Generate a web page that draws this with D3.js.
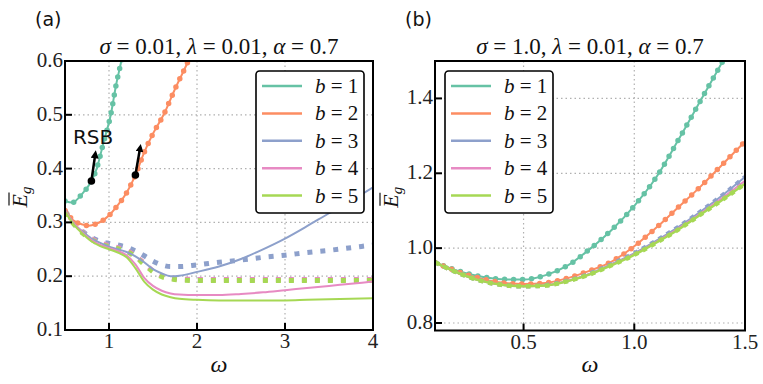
<!DOCTYPE html>
<html>
<head>
<meta charset="utf-8">
<script src="https://cdn.jsdelivr.net/npm/d3@7"></script>
<style>
  body { margin: 0; background: #fff; }
  svg { display: block; }
  .tick-label { font-family: "Liberation Serif", serif; font-size: 21px; fill: #222; }
  .math { font-family: "Liberation Serif", serif; font-style: italic; fill: #111; }
</style>
</head>
<body>
<svg id="fig" width="763" height="384"></svg>
<script>
// ---- data ----
var colors = ["#66c2a5", "#fc8d62", "#8da0cb", "#e78ac3", "#a6d854"];
var legendLabels = ["1", "2", "3", "4", "5"];

// panel (a): sigma = 0.01
var aXTicks = [1, 2, 3, 4];
var aYTicks = [0.1, 0.2, 0.3, 0.4, 0.5, 0.6];
var aOmega1 = [0.5, 0.58, 0.7, 0.8, 0.86, 0.94, 1.02, 1.08, 1.14, 1.2];
var aTheory1 = [0.340, 0.337, 0.354, 0.377, 0.40, 0.45, 0.50, 0.555, 0.60, 0.65];
var aOmega2 = [0.5, 0.6, 0.7, 0.77, 0.85, 1.0, 1.1, 1.2, 1.3, 1.4, 1.5, 1.62, 1.75, 1.9, 2.0];
var aTheory2 = [0.322, 0.303, 0.296, 0.294, 0.297, 0.313, 0.332, 0.355, 0.388, 0.43, 0.465, 0.50, 0.548, 0.60, 0.64];
var aOmega = [0.5, 0.6, 0.7, 0.8, 0.9, 1.0, 1.1, 1.2, 1.3, 1.4, 1.5, 1.6, 1.7, 1.8, 2.0, 2.25, 2.5, 2.75, 3.0, 3.25, 3.5, 3.75, 4.0];
var aTheory3 = [0.323, 0.298, 0.283, 0.270, 0.262, 0.255, 0.250, 0.245, 0.237, 0.226, 0.213, 0.205, 0.200, 0.201, 0.208, 0.218, 0.232, 0.250, 0.270, 0.293, 0.317, 0.340, 0.365];
var aTheory4 = [0.322, 0.298, 0.281, 0.267, 0.258, 0.252, 0.247, 0.239, 0.222, 0.197, 0.182, 0.173, 0.168, 0.166, 0.165, 0.165, 0.167, 0.170, 0.174, 0.178, 0.182, 0.186, 0.190];
var aTheory5 = [0.320, 0.296, 0.279, 0.265, 0.256, 0.250, 0.244, 0.235, 0.215, 0.190, 0.175, 0.166, 0.161, 0.158, 0.156, 0.155, 0.155, 0.155, 0.155, 0.156, 0.157, 0.158, 0.159];
var aSim3 = [0.320, 0.298, 0.283, 0.272, 0.265, 0.261, 0.258, 0.254, 0.247, 0.238, 0.228, 0.221, 0.218, 0.218, 0.221, 0.226, 0.230, 0.235, 0.239, 0.244, 0.248, 0.253, 0.258];
var aSim4 = [0.322, 0.299, 0.282, 0.270, 0.262, 0.257, 0.253, 0.248, 0.238, 0.224, 0.210, 0.201, 0.197, 0.195, 0.194, 0.194, 0.194, 0.194, 0.194, 0.194, 0.194, 0.194, 0.194];
var aSim5 = [0.320, 0.297, 0.280, 0.268, 0.260, 0.255, 0.251, 0.246, 0.236, 0.222, 0.208, 0.199, 0.195, 0.193, 0.192, 0.192, 0.192, 0.192, 0.192, 0.192, 0.192, 0.192, 0.192];
// RSB points and arrow tips
var rsbFrom = [[0.80, 0.377], [1.30, 0.388]];
var rsbTo = [[0.845, 0.428], [1.355, 0.440]];

// panel (b): sigma = 1.0
var bXTicks = [0.5, 1.0, 1.5];
var bYTicks = [0.8, 1.0, 1.2, 1.4];
var bOmega = [0.1, 0.2, 0.3, 0.4, 0.5, 0.6, 0.7, 0.8, 0.9, 1.0, 1.1, 1.2, 1.3, 1.4, 1.5];
var bTheory1 = [0.962, 0.940, 0.925, 0.917, 0.916, 0.928, 0.954, 0.998, 1.050, 1.113, 1.190, 1.290, 1.395, 1.500, 1.61];
var bTheory2 = [0.962, 0.938, 0.920, 0.908, 0.904, 0.907, 0.920, 0.940, 0.965, 1.005, 1.055, 1.110, 1.165, 1.225, 1.285];
var bTheory3 = [0.962, 0.935, 0.914, 0.902, 0.898, 0.901, 0.913, 0.932, 0.958, 0.986, 1.020, 1.057, 1.098, 1.142, 1.190];
var bTheory4 = [0.962, 0.935, 0.914, 0.902, 0.898, 0.900, 0.912, 0.931, 0.956, 0.984, 1.017, 1.053, 1.093, 1.135, 1.180];
var bTheory5 = [0.962, 0.935, 0.914, 0.902, 0.898, 0.900, 0.912, 0.930, 0.955, 0.982, 1.015, 1.050, 1.090, 1.130, 1.172];

var svg = d3.select("#fig");

// arrowhead for the RSB arrows
svg.append("defs").append("marker")
    .attr("id", "arrow")
    .attr("viewBox", "0 0 10 10")
    .attr("refX", 6).attr("refY", 5)
    .attr("markerWidth", 3.2).attr("markerHeight", 3.2)
    .attr("orient", "auto")
  .append("path")
    .attr("d", "M0,0 L10,5 L0,10 z")
    .attr("fill", "#000");

function panel(opts) {
    var g = svg.append("g");
    var x = d3.scaleLinear().domain(opts.xDomain).range([opts.left, opts.right]);
    var y = d3.scaleLinear().domain(opts.yDomain).range([opts.bottom, opts.top]);

    var clipId = "clip-" + opts.name;
    svg.select("defs").append("clipPath").attr("id", clipId)
      .append("rect")
        .attr("x", opts.left).attr("y", opts.top)
        .attr("width", opts.right - opts.left).attr("height", opts.bottom - opts.top);

    // dotted grid
    g.selectAll(".gx").data(opts.xTicks).enter().append("line")
        .attr("x1", d => x(d)).attr("x2", d => x(d))
        .attr("y1", opts.top).attr("y2", opts.bottom)
        .attr("stroke", "#b0b0b0").attr("stroke-width", 1.2).attr("stroke-dasharray", "1.5,3");
    g.selectAll(".gy").data(opts.yTicks).enter().append("line")
        .attr("y1", d => y(d)).attr("y2", d => y(d))
        .attr("x1", opts.left).attr("x2", opts.right)
        .attr("stroke", "#b0b0b0").attr("stroke-width", 1.2).attr("stroke-dasharray", "1.5,3");

    var plot = g.append("g").attr("clip-path", "url(#" + clipId + ")");
    var line = d3.line()
        .x(d => x(d[0])).y(d => y(d[1]))
        .curve(d3.curveMonotoneX);

    // each series: solid theory line + optional marker overlay
    opts.series.forEach(function (s) {
        var pts = d3.zip(s.omega, s.values);
        var p = plot.append("path")
            .attr("d", line(pts))
            .attr("fill", "none")
            .attr("stroke", s.color);
        if (s.style == "solid") {
            p.attr("stroke-width", s.width || 2);
        } else if (s.style == "dots") {  // round simulation markers
            p.attr("stroke-width", 5.5).attr("stroke-linecap", "round").attr("stroke-dasharray", "0," + s.gap);
        } else {  // square markers
            p.attr("stroke-width", s.size).attr("stroke-dasharray", s.size + "," + s.gap);
        }
    });

    // frame
    g.append("rect")
        .attr("x", opts.left).attr("y", opts.top)
        .attr("width", opts.right - opts.left).attr("height", opts.bottom - opts.top)
        .attr("fill", "none").attr("stroke", "#000").attr("stroke-width", 2);

    // inward ticks
    g.selectAll(".tx").data(opts.xTicks).enter().append("line")
        .attr("x1", d => x(d)).attr("x2", d => x(d))
        .attr("y1", opts.bottom).attr("y2", opts.bottom - 7)
        .attr("stroke", "#000").attr("stroke-width", 2);
    g.selectAll(".ty").data(opts.yTicks).enter().append("line")
        .attr("y1", d => y(d)).attr("y2", d => y(d))
        .attr("x1", opts.left).attr("x2", opts.left + 7)
        .attr("stroke", "#000").attr("stroke-width", 2);

    g.selectAll(".lx").data(opts.xTicks).enter().append("text")
        .attr("class", "tick-label")
        .attr("x", d => x(d)).attr("y", opts.bottom + 18)
        .attr("text-anchor", "middle")
        .text(d => opts.xFormat(d));
    g.selectAll(".ly").data(opts.yTicks).enter().append("text")
        .attr("class", "tick-label")
        .attr("x", opts.left - 2).attr("y", d => y(d) + 6)
        .attr("text-anchor", "end")
        .text(d => opts.yFormat(d));

    // title
    var cx = (opts.left + opts.right) / 2;
    var t = g.append("text")
        .attr("x", cx).attr("y", 54)
        .attr("text-anchor", "middle")
        .attr("font-family", "Liberation Serif, serif")
        .attr("font-size", 23)
        .attr("fill", "#111");
    opts.title.forEach(function (part) {
        t.append("tspan").attr("font-style", part[1] ? "italic" : "normal").text(part[0]);
    });

    // panel letter
    g.append("text")
        .attr("x", opts.letterX).attr("y", 26)
        .attr("font-family", "DejaVu Sans, sans-serif")
        .attr("font-size", 19)
        .attr("fill", "#111")
        .text(opts.letter);

    // x label
    g.append("text")
        .attr("class", "math")
        .attr("x", cx).attr("y", 372)
        .attr("text-anchor", "middle")
        .attr("font-size", 24)
        .text("ω");

    // y label: E with overline and subscript g
    var yl = g.append("g")
        .attr("transform", "translate(" + opts.ylabX + "," + ((opts.top + opts.bottom) / 2 + 12) + ") rotate(-90)");
    yl.append("text").attr("class", "math").attr("font-size", 22)
        .attr("x", 0).attr("y", 0).attr("text-anchor", "start")
        .text("E")
      .append("tspan").attr("font-size", 15).attr("dy", 4).text("g");
    yl.append("line")
        .attr("x1", 2).attr("x2", 15).attr("y1", -18).attr("y2", -18)
        .attr("stroke", "#111").attr("stroke-width", 1.2);

    // legend
    var lg = g.append("g");
    lg.append("rect")
        .attr("x", opts.legX).attr("y", 71)
        .attr("width", 108).attr("height", 142)
        .attr("rx", 3.5)
        .attr("fill", "#fff").attr("stroke", "#000").attr("stroke-width", 1.6);
    legendLabels.forEach(function (lab, i) {
        var ly = 86 + i * 27.4;
        lg.append("line")
            .attr("x1", opts.legX + 6).attr("x2", opts.legX + 46)
            .attr("y1", ly).attr("y2", ly)
            .attr("stroke", colors[i]).attr("stroke-width", 2.5);
        var tx = lg.append("text")
            .attr("x", opts.legX + 59).attr("y", ly + 7)
            .attr("font-family", "Liberation Serif, serif")
            .attr("font-size", 21)
            .attr("fill", "#111");
        tx.append("tspan").attr("font-style", "italic").text("b");
        tx.append("tspan").text(" = " + lab);
    });

    return { x: x, y: y, g: g };
}

// ---- panel (a) ----
var pa = panel({
    name: "a", letter: "(a)", letterX: 35, ylabX: 27, legX: 256,
    left: 65, right: 373, top: 61, bottom: 330,
    xDomain: [0.5, 4], yDomain: [0.1, 0.6],
    xTicks: aXTicks, yTicks: aYTicks,
    xFormat: d3.format("d"), yFormat: d3.format(".1f"),
    title: [["σ", true], [" = 0.01, ", false], ["λ", true], [" = 0.01, ", false], ["α", true], [" = 0.7", false]],
    series: [
        { omega: aOmega, values: aSim3, color: colors[2], style: "squares", size: 5, gap: 8 },
        { omega: aOmega, values: aSim4, color: colors[3], style: "squares", size: 5, gap: 8 },
        { omega: aOmega, values: aSim5, color: colors[4], style: "squares", size: 5, gap: 8 },
        { omega: aOmega1, values: aTheory1, color: colors[0], style: "solid" },
        { omega: aOmega1, values: aTheory1, color: colors[0], style: "dots", gap: 9 },
        { omega: aOmega2, values: aTheory2, color: colors[1], style: "solid" },
        { omega: aOmega2, values: aTheory2, color: colors[1], style: "dots", gap: 9 },
        { omega: aOmega, values: aTheory3, color: colors[2], style: "solid" },
        { omega: aOmega, values: aTheory4, color: colors[3], style: "solid" },
        { omega: aOmega, values: aTheory5, color: colors[4], style: "solid" }
    ]
});

// RSB markers
rsbFrom.forEach(function (p, i) {
    pa.g.append("line")
        .attr("x1", pa.x(p[0])).attr("y1", pa.y(p[1]))
        .attr("x2", pa.x(rsbTo[i][0])).attr("y2", pa.y(rsbTo[i][1]))
        .attr("stroke", "#000").attr("stroke-width", 2.5)
        .attr("marker-end", "url(#arrow)");
    pa.g.append("circle")
        .attr("cx", pa.x(p[0])).attr("cy", pa.y(p[1])).attr("r", 3.8)
        .attr("fill", "#000");
});
pa.g.append("text")
    .attr("x", pa.x(0.59)).attr("y", 144)
    .attr("font-family", "DejaVu Sans, sans-serif")
    .attr("font-size", 20)
    .attr("fill", "#111")
    .text("RSB");

// ---- panel (b) ----
var pb = panel({
    name: "b", letter: "(b)", letterX: 405, ylabX: 398, legX: 445,
    left: 435, right: 745, top: 61, bottom: 330.5,
    xDomain: [0.1, 1.5], yDomain: [0.78, 1.5],
    xTicks: bXTicks, yTicks: bYTicks,
    xFormat: d3.format(".1f"), yFormat: d3.format(".1f"),
    title: [["σ", true], [" = 1.0, ", false], ["λ", true], [" = 0.01, ", false], ["α", true], [" = 0.7", false]],
    series: [
        { omega: bOmega, values: bTheory1, color: colors[0], style: "solid" },
        { omega: bOmega, values: bTheory1, color: colors[0], style: "dots", gap: 9 },
        { omega: bOmega, values: bTheory2, color: colors[1], style: "solid" },
        { omega: bOmega, values: bTheory2, color: colors[1], style: "dots", gap: 9 },
        { omega: bOmega, values: bTheory3, color: colors[2], style: "solid" },
        { omega: bOmega, values: bTheory3, color: colors[2], style: "squares", size: 4.5, gap: 5 },
        { omega: bOmega, values: bTheory4, color: colors[3], style: "solid" },
        { omega: bOmega, values: bTheory5, color: colors[4], style: "solid", width: 2.5 },
        { omega: bOmega, values: bTheory5, color: colors[4], style: "squares", size: 4.5, gap: 5 }
    ]
});
</script>
</body>
</html>
